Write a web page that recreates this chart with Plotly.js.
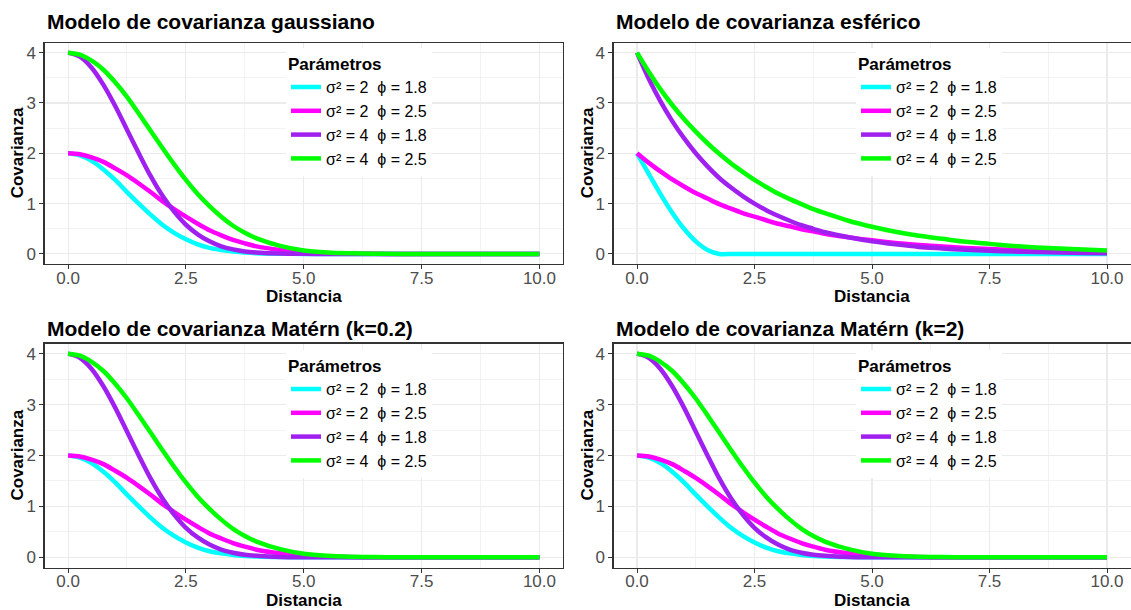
<!DOCTYPE html>
<html>
<head>
<meta charset="utf-8">
<script src="https://cdn.plot.ly/plotly-3.0.1.min.js"></script>
<style>html,body{margin:0;padding:0;background:#fff;}#chart{width:1131px;height:610px;}</style>
</head>
<body>
<div id="chart"></div>
<script>
// ---- Data ----
const distancia = [0,0.25,0.5,0.75,1,1.25,1.5,1.75,2,2.25,2.5,2.75,3,3.25,3.5,3.75,4,4.5,5,5.5,6,6.5,7,7.5,8,8.5,9,9.5,10];

const seriesNames = [
  "σ² = 2  ϕ = 1.8",
  "σ² = 2  ϕ = 2.5",
  "σ² = 4  ϕ = 1.8",
  "σ² = 4  ϕ = 2.5"
];
const seriesColors = ["#00FFFF", "#FF00FF", "#A020F0", "#00FF00"];

const panelTitles = [
  "Modelo de covarianza gaussiano",
  "Modelo de covarianza esférico",
  "Modelo de covarianza Matérn (k=0.2)",
  "Modelo de covarianza Matérn (k=2)"
];

// Gaussian panel
const gaussS2P18 = [2.00,1.96,1.85,1.68,1.47,1.23,1.00,0.78,0.58,0.42,0.29,0.19,0.12,0.077,0.046,0.026,0.014,0.004,0,0,0,0,0,0,0,0,0,0,0];
const gaussS2P25 = [2.00,1.98,1.92,1.83,1.70,1.56,1.40,1.23,1.05,0.89,0.74,0.60,0.47,0.37,0.28,0.21,0.15,0.078,0.037,0.016,0.006,0.002,0,0,0,0,0,0,0];
const gaussS4P18 = [4.00,3.92,3.70,3.36,2.94,2.47,2.00,1.55,1.16,0.84,0.58,0.39,0.25,0.15,0.09,0.05,0.03,0.008,0.002,0,0,0,0,0,0,0,0,0,0];
const gaussS4P25 = [4.00,3.96,3.84,3.66,3.41,3.12,2.79,2.45,2.11,1.78,1.47,1.19,0.95,0.74,0.56,0.42,0.31,0.16,0.07,0.03,0.013,0.005,0,0,0,0,0,0,0];

// Spherical panel
const esfS2P18 = [2.00,1.59,1.19,0.82,0.50,0.25,0.08,0.00,0,0,0,0,0,0,0,0,0,0,0,0,0,0,0,0,0,0,0,0,0];
const esfS2P25 = [2.00,1.81,1.64,1.48,1.34,1.21,1.10,0.99,0.90,0.81,0.74,0.67,0.60,0.55,0.49,0.45,0.40,0.33,0.27,0.22,0.18,0.15,0.12,0.10,0.08,0.067,0.055,0.045,0.037];
const esfS4P18 = [4.00,3.48,3.03,2.64,2.30,2.00,1.74,1.51,1.32,1.15,1.00,0.87,0.76,0.66,0.57,0.50,0.43,0.33,0.25,0.19,0.14,0.11,0.082,0.062,0.047,0.036,0.027,0.020,0.015];
const esfS4P25 = [4.00,3.62,3.27,2.96,2.68,2.43,2.20,1.99,1.80,1.63,1.47,1.33,1.20,1.09,0.99,0.89,0.81,0.66,0.54,0.44,0.36,0.30,0.24,0.20,0.16,0.13,0.11,0.09,0.07];

// Matérn k=0.2 panel (visually identical to gaussian in the picture)
const maternK02S2P18 = [2.00,1.96,1.85,1.68,1.47,1.23,1.00,0.78,0.58,0.42,0.29,0.19,0.12,0.077,0.046,0.026,0.014,0.004,0,0,0,0,0,0,0,0,0,0,0];
const maternK02S2P25 = [2.00,1.98,1.92,1.83,1.70,1.56,1.40,1.23,1.05,0.89,0.74,0.60,0.47,0.37,0.28,0.21,0.15,0.078,0.037,0.016,0.006,0.002,0,0,0,0,0,0,0];
const maternK02S4P18 = [4.00,3.92,3.70,3.36,2.94,2.47,2.00,1.55,1.16,0.84,0.58,0.39,0.25,0.15,0.09,0.05,0.03,0.008,0.002,0,0,0,0,0,0,0,0,0,0];
const maternK02S4P25 = [4.00,3.96,3.84,3.66,3.41,3.12,2.79,2.45,2.11,1.78,1.47,1.19,0.95,0.74,0.56,0.42,0.31,0.16,0.07,0.03,0.013,0.005,0,0,0,0,0,0,0];

// Matérn k=2 panel
const maternK2S2P18 = [2.00,1.96,1.85,1.68,1.47,1.23,1.00,0.78,0.58,0.42,0.29,0.19,0.12,0.077,0.046,0.026,0.014,0.004,0,0,0,0,0,0,0,0,0,0,0];
const maternK2S2P25 = [2.00,1.98,1.92,1.83,1.70,1.56,1.40,1.23,1.05,0.89,0.74,0.60,0.47,0.37,0.28,0.21,0.15,0.078,0.037,0.016,0.006,0.002,0,0,0,0,0,0,0];
const maternK2S4P18 = [4.00,3.92,3.70,3.36,2.94,2.47,2.00,1.55,1.16,0.84,0.58,0.39,0.25,0.15,0.09,0.05,0.03,0.008,0.002,0,0,0,0,0,0,0,0,0,0];
const maternK2S4P25 = [4.00,3.96,3.84,3.66,3.41,3.12,2.79,2.45,2.11,1.78,1.47,1.19,0.95,0.74,0.56,0.42,0.31,0.16,0.07,0.03,0.013,0.005,0,0,0,0,0,0,0];

const panels = [
  [gaussS2P18, gaussS2P25, gaussS4P18, gaussS4P25],
  [esfS2P18, esfS2P25, esfS4P18, esfS4P25],
  [maternK02S2P18, maternK02S2P25, maternK02S4P18, maternK02S4P25],
  [maternK2S2P18, maternK2S2P25, maternK2S4P18, maternK2S4P25]
];

// ---- Layout geometry (pixels) ----
const W = 1131, H = 610;
const FONT = "Liberation Sans, Arial, sans-serif";
const cols = [[44.5, 563], [613.5, 1130.5]];
const rows = [[42.6, 264], [343.5, 567.5]];
const titleY = [22, 328];
const xTitleY = [297, 600];
const yTitleX = [17, 587];
const legendPos = [[286, 48], [856, 48], [286, 350], [856, 350]];

const traces = [];
const layout = {
  width: W, height: H,
  margin: {l: 0, r: 0, t: 0, b: 0},
  paper_bgcolor: "#ffffff",
  plot_bgcolor: "#ffffff",
  font: {family: FONT, size: 17, color: "#000"},
  showlegend: true,
  annotations: []
};

panels.forEach((series, p) => {
  const r = Math.floor(p / 2), c = p % 2;
  const ax = p === 0 ? "" : String(p + 1);
  const legendId = p === 0 ? "legend" : "legend" + (p + 1);
  series.forEach((vals, i) => {
    traces.push({
      type: "scatter", mode: "lines",
      x: distancia, y: vals,
      xaxis: "x" + ax, yaxis: "y" + ax,
      name: seriesNames[i],
      legend: legendId,
      line: {color: seriesColors[i], width: 4.5, shape: "spline", smoothing: 0.8},
      hoverinfo: "skip"
    });
  });
  const xd = [cols[c][0] / W, cols[c][1] / W];
  const yd = [1 - rows[r][1] / H, 1 - rows[r][0] / H];
  const common = {
    showline: true, mirror: true, linecolor: "#333333", linewidth: 1.1,
    ticks: "outside", ticklen: 4, tickwidth: 1, tickcolor: "#333333",
    tickfont: {family: FONT, size: 17, color: "#4D4D4D"},
    showgrid: true, gridcolor: "#EBEBEB", gridwidth: 1.1,
    zeroline: false, fixedrange: true
  };
  layout["xaxis" + ax] = Object.assign({}, common, {
    domain: xd, anchor: "y" + ax, range: [-0.5, 10.5],
    tickmode: "linear", tick0: 0, dtick: 2.5, tickformat: ".1f",
    ticklabelstandoff: -6,
    minor: {dtick: 1.25, tick0: 0, showgrid: true, gridcolor: "#EBEBEB", gridwidth: 0.6, ticks: ""}
  });
  layout["yaxis" + ax] = Object.assign({}, common, {
    domain: yd, anchor: "x" + ax, range: [-0.2, 4.2],
    tickmode: "linear", tick0: 0, dtick: 1,
    minor: {dtick: 0.5, tick0: 0, showgrid: true, gridcolor: "#EBEBEB", gridwidth: 0.6, ticks: ""}
  });
  layout[legendId] = {
    x: legendPos[p][0] / W, y: 1 - legendPos[p][1] / H,
    xanchor: "left", yanchor: "top",
    bgcolor: "#ffffff", borderwidth: 0,
    font: {family: FONT, size: 16, color: "#000"},
    title: {text: "<b>Parámetros</b>", font: {family: FONT, size: 17, color: "#000"}, side: "top"},
    itemwidth: 30, tracegroupgap: 0
  };
  layout.annotations.push({
    text: "<b>" + panelTitles[p] + "</b>", xref: "paper", yref: "paper",
    x: cols[c][0] / W, y: 1 - titleY[r] / H, xanchor: "left", yanchor: "middle",
    showarrow: false, font: {family: FONT, size: 21, color: "#000"}
  });
  layout.annotations.push({
    text: "<b>Distancia</b>", xref: "paper", yref: "paper",
    x: (cols[c][0] + cols[c][1]) / 2 / W, y: 1 - xTitleY[r] / H, xanchor: "center", yanchor: "middle",
    showarrow: false, font: {family: FONT, size: 17, color: "#000"}
  });
  layout.annotations.push({
    text: "<b>Covarianza</b>", xref: "paper", yref: "paper", textangle: -90,
    x: yTitleX[c] / W, y: 1 - (rows[r][0] + rows[r][1]) / 2 / H, xanchor: "center", yanchor: "middle",
    showarrow: false, font: {family: FONT, size: 17, color: "#000"}
  });
});

Plotly.newPlot("chart", traces, layout, {staticPlot: true, displayModeBar: false});
</script>
</body>
</html>
